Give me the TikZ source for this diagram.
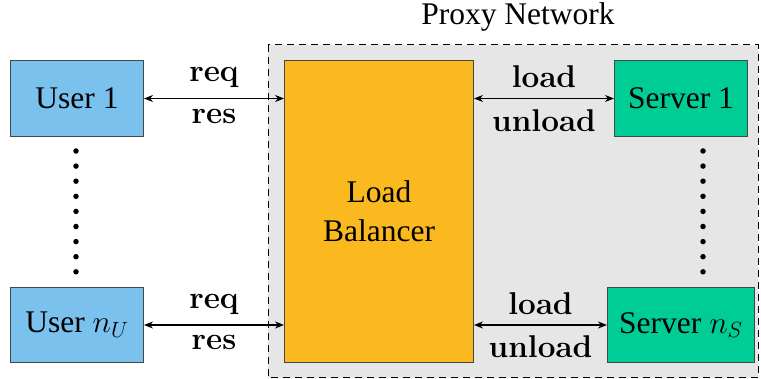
\RequirePackage{fix-cm}
\documentclass[tikz,border=0pt]{standalone}
\usepackage[no-math]{fontspec}
\setmainfont{Liberation Serif}
\usetikzlibrary{arrows.meta}
\definecolor{userblue}{RGB}{122,193,237}
\definecolor{lbor}{RGB}{251,185,32}
\definecolor{srvgreen}{RGB}{0,204,150}
\definecolor{proxygray}{RGB}{230,230,230}
\definecolor{edgegray}{RGB}{70,70,70}
\tikzset{
  unitbox/.style={draw=edgegray, line width=1pt, inner sep=0pt, anchor=north west},
  link/.style={line width=1.4pt, {Stealth[length=9pt,width=7pt]}-{Stealth[length=9pt,width=7pt]}},
  lbl/.style={midway, inner sep=0pt},
  dotcol/.style={fill=black, draw=none, circle, minimum size=5.5pt, inner sep=0pt},
}
\begin{document}
\begin{tikzpicture}[x=1pt, y=-1pt, font=\fontsize{31.5}{39}\selectfont]
\useasboundingbox (0,0) rectangle (761,379);
% proxy network region
\draw[fill=proxygray, dashed, dash pattern=on 7pt off 5pt, line width=1pt] (268,45) rectangle (758,378);
\node (proxy) at (518,17) {Proxy Network};
% users
\node[unitbox, fill=userblue, minimum width=133pt, minimum height=76pt] (u1) at (10,60) {User 1};
\node[unitbox, fill=userblue, minimum width=133pt, minimum height=75pt] (un) at (10,287) {User $n_U$};
% load balancer
\node[unitbox, fill=lbor, minimum width=189pt, minimum height=302pt, align=center] (lb) at (284,60) {Load\\Balancer};
% servers
\node[unitbox, fill=srvgreen, minimum width=133pt, minimum height=76pt] (s1) at (614,60) {Server 1};
\node[unitbox, fill=srvgreen, minimum width=147pt, minimum height=75pt] (sn) at (607,287) {Server $n_S$};
% connectors
\coordinate (lbu1) at (lb.west |- u1.east);
\coordinate (lbun) at (lb.west |- un.east);
\coordinate (lbs1) at (lb.east |- s1.west);
\coordinate (lbsn) at (lb.east |- sn.west);
\draw[link] (u1.east) -- (lbu1)
  node[lbl, above=10pt] {$\mathbf{req}$}
  node[lbl, below=10pt] {$\mathbf{res}$};
\draw[link] (un.east) -- (lbun)
  node[lbl, above=10pt] {$\mathbf{req}$}
  node[lbl, below=10pt] {$\mathbf{res}$};
\draw[link] (lbs1) -- (s1.west)
  node[lbl, above=10pt] {$\mathbf{load}$}
  node[lbl, below=10pt] {$\mathbf{unload}$};
\draw[link] (lbsn) -- (sn.west)
  node[lbl, above=10pt] {$\mathbf{load}$}
  node[lbl, below=10pt] {$\mathbf{unload}$};
% vertical ellipses
\foreach \i in {0,...,8} {
  \node[dotcol] (ud\i) at (76,151+15.1*\i) {};
  \node[dotcol] (sd\i) at (703,151+15.1*\i) {};
}
\end{tikzpicture}
\end{document}
